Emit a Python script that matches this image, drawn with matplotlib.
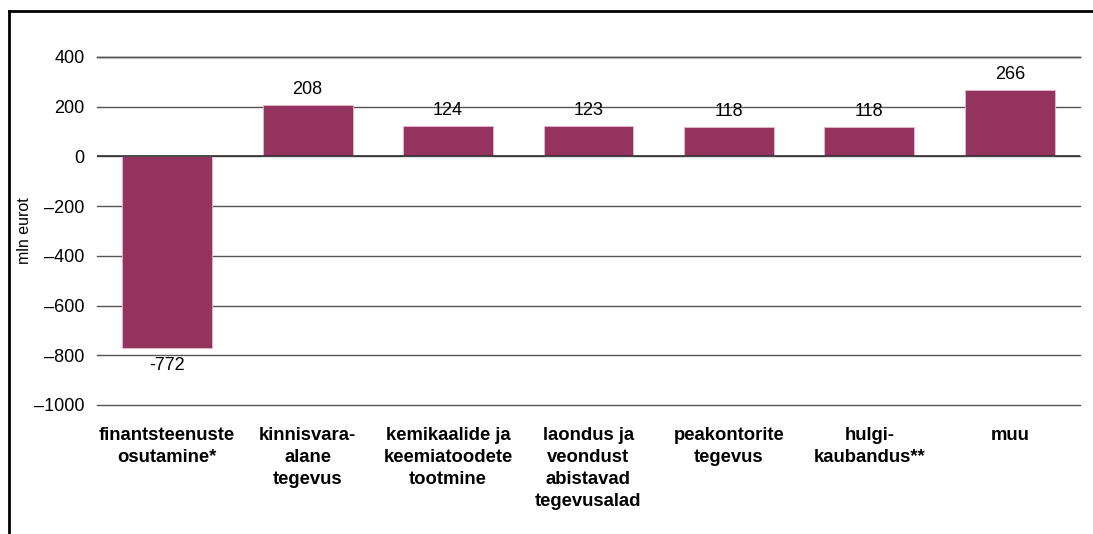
import matplotlib.pyplot as plt
from matplotlib.lines import Line2D
import numpy as np

plt.rcParams['font.family'] = ['Liberation Sans', 'DejaVu Sans']

# Data
categories = ['finantsteenuste\nosutamine*', 'kinnisvara-\nalane\ntegevus',
              'kemikaalide ja\nkeemiatoodete\ntootmine',
              'laondus ja\nveondust\nabistavad\ntegevusalad',
              'peakontorite\ntegevus', 'hulgi-\nkaubandus**', 'muu']
values = [-772, 208, 124, 123, 118, 118, 266]
value_labels = ['-772', '208', '124', '123', '118', '118', '266']
yticks = [400, 200, 0, -200, -400, -600, -800, -1000]
ytick_labels = ['400', '200', '0', '–200', '–400', '–600', '–800', '–1000']

fig = plt.figure(figsize=(10.93, 5.34), dpi=100)
ax = fig.add_axes([0.0887, 0.2416, 0.8994, 0.6517])

x = np.arange(len(categories))
ax.bar(x, values, width=0.64, color='#93335E', edgecolor='#e8b8cc', linewidth=0.6, zorder=2)

ax.set_xlim(-0.5, len(categories) - 0.5)
ax.set_ylim(-1000, 400)
ax.set_yticks(yticks)
ax.set_yticklabels(ytick_labels, fontsize=13)
ax.grid(axis='y', color='#555555', linewidth=1, zorder=1)
for gl in ax.get_ygridlines():
    gl.set_clip_on(False)
ax.axhline(0, color='#333333', linewidth=1.2, zorder=3)
ax.axhline(400, color='#111111', linewidth=1, zorder=1, clip_on=False)
ax.tick_params(axis='y', length=0, pad=9)
ax.set_xticks(x)
ax.set_xticklabels(categories, fontsize=13.3, fontweight='bold', va='top', linespacing=1.38)
ax.tick_params(axis='x', length=0, pad=16)
for s in ax.spines.values():
    s.set_visible(False)

for xi, v, lab in zip(x, values, value_labels):
    if v >= 0:
        ax.annotate(lab, (xi, v), xytext=(0, 5), textcoords='offset points',
                    ha='center', va='bottom', fontsize=13)
    else:
        ax.annotate(lab, (xi, v), xytext=(0, -6), textcoords='offset points',
                    ha='center', va='top', fontsize=13)

ax.set_ylabel('mln eurot', fontsize=11.5)
ax.yaxis.set_label_coords(-0.066, 0.5)

# outer frame
fig.add_artist(Line2D([9 / 1093, 9 / 1093], [0, 1 - 11 / 534], color='black', linewidth=2))
fig.add_artist(Line2D([9 / 1093, 1], [1 - 11 / 534, 1 - 11 / 534], color='black', linewidth=2))

fig.savefig('out.png', dpi=100)
